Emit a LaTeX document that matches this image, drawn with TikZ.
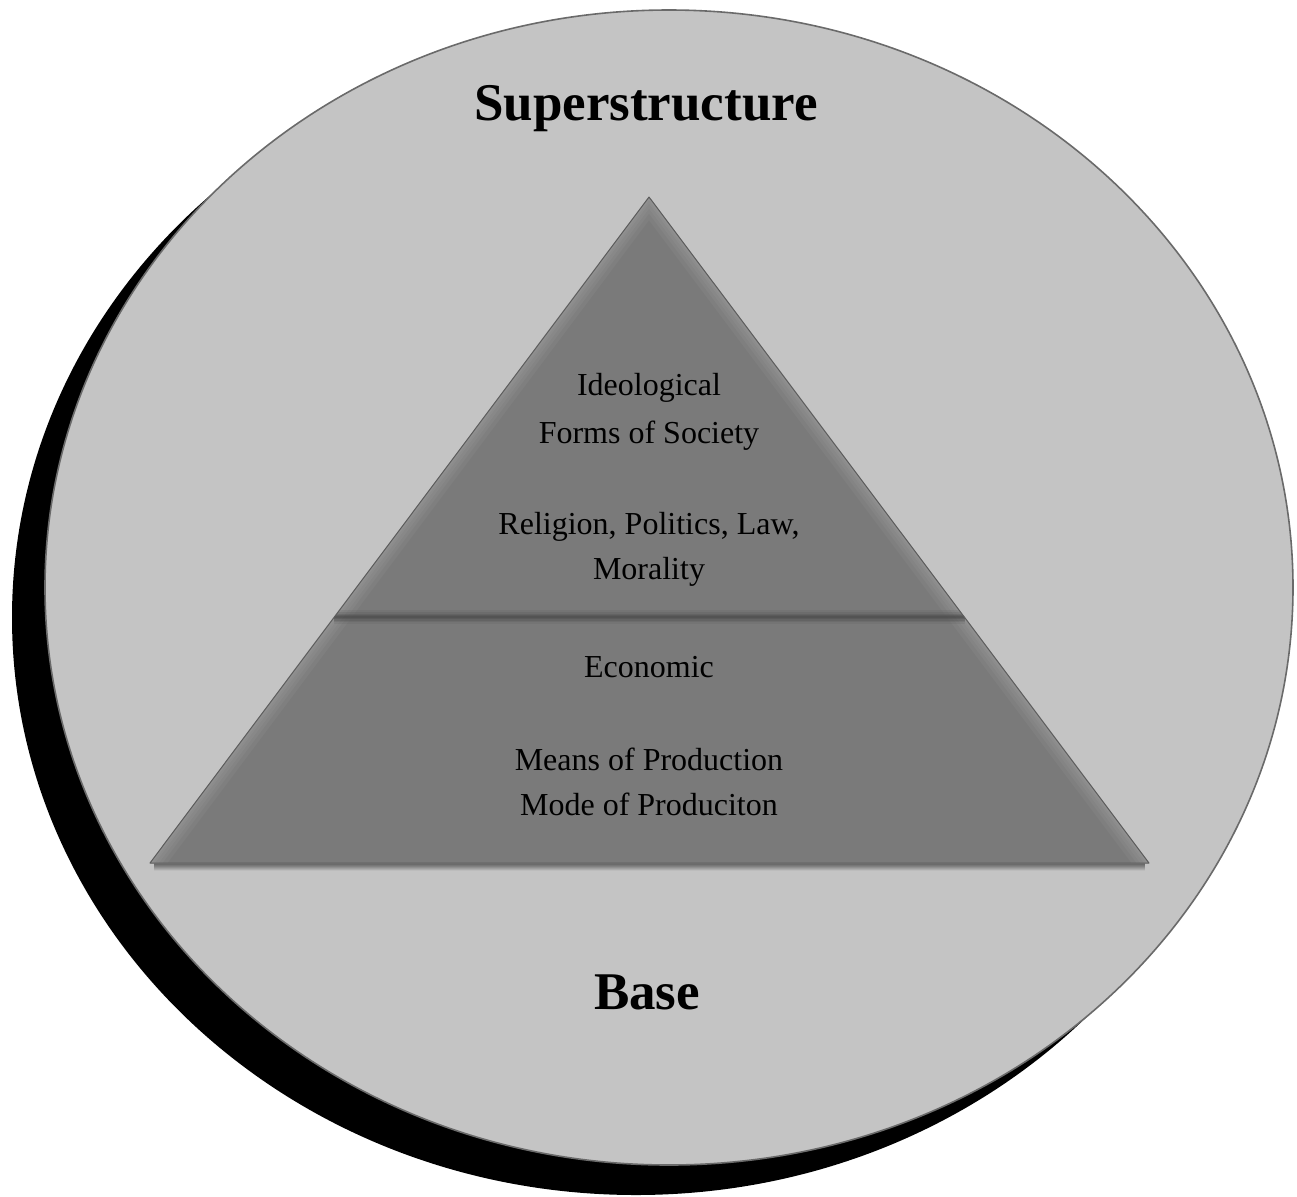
\documentclass[tikz,border=0pt]{standalone}
\usepackage{fontspec}
\setmainfont{Liberation Serif}
\usetikzlibrary{calc}
\definecolor{discfill}{HTML}{C4C4C4}
\definecolor{discline}{HTML}{6A6A6A}
\definecolor{pyrfill}{HTML}{7A7A7A}
\definecolor{pyrline}{HTML}{5C5C5C}
\definecolor{divline}{HTML}{4A4A4A}
\tikzset{
  bodytext/.style={font=\fontsize{16}{19}\selectfont, anchor=base, inner sep=0pt, text=black},
  titletext/.style={font=\fontsize{26.5}{30}\selectfont\bfseries, anchor=base, inner sep=0pt, text=black},
}
\begin{document}
\begin{tikzpicture}[x=0.5pt,y=-0.5pt]
\useasboundingbox (0,0) rectangle (1297,1196);
% shadow of the disc
\fill[black] (636,617.5) ellipse [x radius=624, y radius=577.5];
% disc
\filldraw[fill=discfill, draw=discline, line width=0.8pt] (669,587.5) ellipse [x radius=624, y radius=577.5];
% pyramid
\coordinate (apex) at (649,197);
\coordinate (bl) at (150,863);
\coordinate (br) at (1149,863);
\coordinate (dl) at (334.3,617);
\coordinate (dr) at (964.7,617);
% soft shadow under the base
\foreach \i in {1,...,7} {
  \draw[black, opacity={0.32*(1-\i/8)}, line width=0.6pt] ($(bl)+(4,\i)$) -- ($(br)+(-4,\i)$);
}
\fill[pyrfill] (apex) -- (bl) -- (br) -- cycle;
\begin{scope}
  \clip (apex) -- (bl) -- (br) -- cycle;
  \foreach \w in {14,10,7,4,2} {
    \draw[white, opacity=0.04, line width=\w pt, line join=round] (bl) -- (apex) -- (br);
  }
  % divider (blurred dark band)
  \foreach \w/\o in {7/0.12,5/0.18,3.5/0.25,2/0.35,1/0.4} {
    \draw[divline, opacity=\o, line width=\w pt] (dl) -- (dr);
  }
\end{scope}
\draw[pyrline, line width=0.5pt, line join=round] (apex) -- (bl) -- (br) -- cycle;
% texts
\node[titletext] (super) at (646,120) {Superstructure};
\node[titletext] (base) at (647,1009) {Base};
\node[bodytext] (ideo) at (649,395) {Ideological};
\node[bodytext] (forms) at (649,443) {Forms of Society};
\node[bodytext] (relig) at (649,534) {Religion, Politics, Law,};
\node[bodytext] (moral) at (649,579) {Morality};
\node[bodytext] (econ) at (649,677) {Economic};
\node[bodytext] (means) at (649,770) {Means of Production};
\node[bodytext] (mode) at (649,815) {Mode of Produciton};
\end{tikzpicture}
\end{document}
